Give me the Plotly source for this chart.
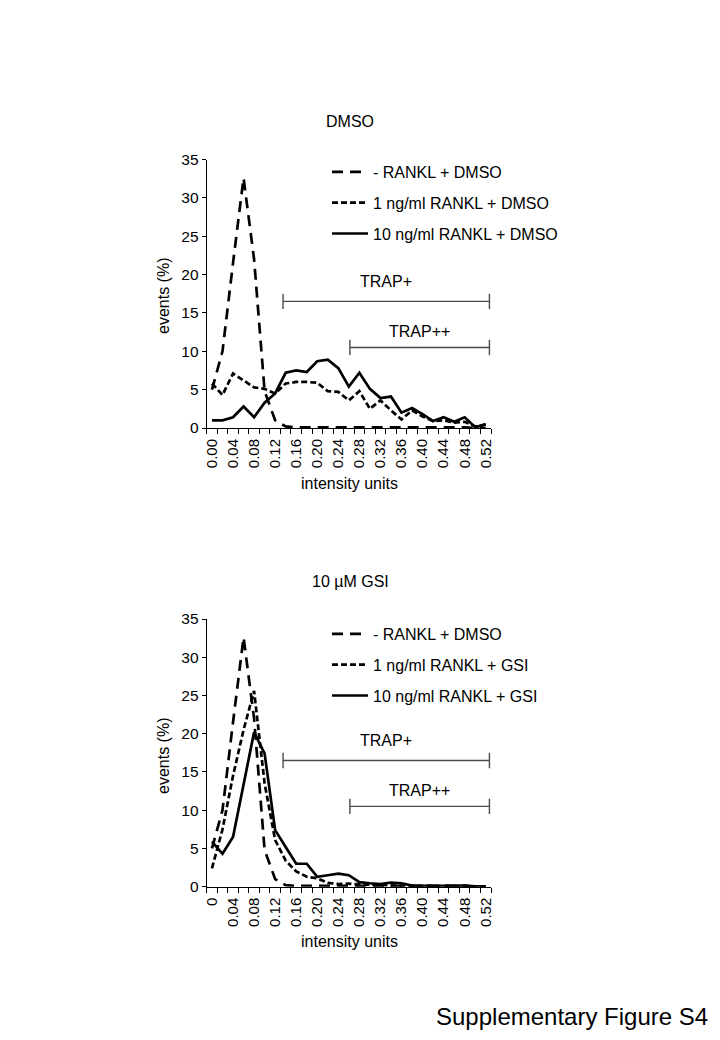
import plotly.graph_objects as go

# ---------------- data ----------------
intensity = [0.00, 0.02, 0.04, 0.06, 0.08, 0.10, 0.12, 0.14, 0.16, 0.18, 0.20, 0.22, 0.24,
             0.26, 0.28, 0.30, 0.32, 0.34, 0.36, 0.38, 0.40, 0.42, 0.44, 0.46, 0.48, 0.50, 0.52]
label_pos = [0.00, 0.04, 0.08, 0.12, 0.16, 0.20, 0.24, 0.28, 0.32, 0.36, 0.40, 0.44, 0.48, 0.52]
top_ticklabels = ["0.00", "0.04", "0.08", "0.12", "0.16", "0.20", "0.24", "0.28",
                  "0.32", "0.36", "0.40", "0.44", "0.48", "0.52"]
bottom_ticklabels = ["0", "0.04", "0.08", "0.12", "0.16", "0.20", "0.24", "0.28",
                     "0.32", "0.36", "0.40", "0.44", "0.48", "0.52"]

ctrl_dmso = [5.0, 10.0, 21.5, 32.6, 22.0, 4.8, 1.0, 0.2, 0.1, 0.1, 0.1, 0.1, 0.1, 0.1,
             0.1, 0.1, 0.1, 0.1, 0.1, 0.1, 0.1, 0.1, 0.1, 0.1, 0.1, 0.0, 0.0]
dmso_1ng = [5.8, 4.3, 7.1, 6.2, 5.3, 5.1, 4.5, 5.8, 6.0, 6.0, 5.9, 4.8, 4.7, 3.6,
            4.8, 2.5, 3.6, 2.3, 1.1, 2.3, 1.5, 0.9, 1.0, 0.7, 0.8, 0.2, 0.4]
dmso_10ng = [1.0, 1.0, 1.4, 2.8, 1.4, 3.3, 4.5, 7.2, 7.5, 7.3, 8.7, 8.9, 7.8, 5.4,
             7.2, 5.1, 3.9, 4.1, 2.0, 2.6, 1.8, 0.9, 1.4, 0.8, 1.4, 0.1, 0.5]
gsi_1ng = [2.4, 7.5, 14.5, 20.5, 25.6, 13.5, 6.1, 3.4, 2.0, 1.3, 1.1, 0.5, 0.35, 0.4,
           0.3, 0.25, 0.2, 0.2, 0.1, 0.1, 0.1, 0.1, 0.1, 0.1, 0.1, 0.05, 0.05]
gsi_10ng = [5.9, 4.3, 6.5, 13.3, 20.2, 17.4, 7.4, 5.2, 3.0, 3.0, 1.3, 1.5, 1.7, 1.5,
            0.6, 0.45, 0.35, 0.55, 0.45, 0.15, 0.1, 0.1, 0.1, 0.1, 0.15, 0.05, 0.05]

trap_plus = [0.135, 0.527]
trap_pp = [0.262, 0.527]
trap_plus_y = 16.5
trap_pp_y = 10.5

FONT = "Liberation Sans, Arial, Helvetica, sans-serif"
LONG = "11px,7px"
SHORT = "6px,3px"
LW = 2.7

# the page adds an 8px body margin; size the figure so it fills 720x1040 exactly
OFF = 8
W, H = 720 - 2 * OFF, 1040 - 2 * OFF


def px(x):
    return (x - OFF) / W


def py(y):
    return 1 - (y - OFF) / H


fig = go.Figure()


def add(y, name, dash, xa, ya, leg, grp):
    fig.add_trace(go.Scatter(
        x=intensity, y=y, mode="lines", name=name,
        line=dict(color="black", width=LW, dash=dash),
        xaxis=xa, yaxis=ya, legend=leg, legendgroup=grp, showlegend=True))


add(ctrl_dmso, "- RANKL + DMSO", LONG, "x", "y", "legend", "a1")
add(dmso_1ng, "1 ng/ml RANKL + DMSO", SHORT, "x", "y", "legend", "a2")
add(dmso_10ng, "10 ng/ml RANKL + DMSO", "solid", "x", "y", "legend", "a3")
add(ctrl_dmso, "- RANKL + DMSO", LONG, "x2", "y2", "legend2", "b1")
add(gsi_1ng, "1 ng/ml RANKL + GSI", SHORT, "x2", "y2", "legend2", "b2")
add(gsi_10ng, "10 ng/ml RANKL + GSI", "solid", "x2", "y2", "legend2", "b3")

XDOM = [px(206.7), px(491.0)]
TOPDOM = [py(428.0), py(159.5)]
BOTDOM = [py(886.7), py(619.0)]


def xaxis(dom_anchor, ticktext):
    return dict(
        domain=XDOM, anchor=dom_anchor, range=[-0.01, 0.53], autorange=False,
        tickmode="array", tickvals=label_pos, ticktext=ticktext, tickangle=-90,
        ticks="", ticklen=0, showline=True, linecolor="black", linewidth=1,
        showgrid=False, zeroline=False, automargin=False,
        tickfont=dict(family=FONT, size=15, color="black"),
        minor=dict(tickmode="linear", tick0=-0.01, dtick=0.02, ticks="outside",
                   ticklen=5, tickcolor="black", tickwidth=1, showgrid=False),
        ticklabelstandoff=4,
    )


def yaxis(dom, anchor):
    return dict(
        domain=dom, anchor=anchor, range=[0, 35], autorange=False, dtick=5,
        ticks="outside", ticklen=4, tickcolor="black", showline=True,
        linecolor="black", linewidth=1, showgrid=False, zeroline=False,
        automargin=False,
        tickfont=dict(family=FONT, size=15.5, color="black"),
    )


legend_common = dict(
    font=dict(family=FONT, size=16, color="black"),
    bgcolor="rgba(0,0,0,0)", borderwidth=0, tracegroupgap=7,
    xanchor="left", yanchor="top", itemclick=False, itemdoubleclick=False,
    itemwidth=36,
)

fig.update_layout(
    width=W, height=H,
    margin=dict(l=0, r=0, t=0, b=0, pad=0, autoexpand=False),
    paper_bgcolor="white", plot_bgcolor="white",
    font=dict(family=FONT, color="black"),
    xaxis=xaxis("y", top_ticklabels), yaxis=yaxis(TOPDOM, "x"),
    xaxis2=xaxis("y2", bottom_ticklabels), yaxis2=yaxis(BOTDOM, "x2"),
    legend=dict(x=px(327), y=py(155), **legend_common),
    legend2=dict(x=px(327), y=py(617), **legend_common),
)

shapes = []
annotations = []
for xr, yr in (("x", "y"), ("x2", "y2")):
    for (x0, x1), yy in ((trap_plus, trap_plus_y), (trap_pp, trap_pp_y)):
        g = dict(type="line", xref=xr, yref=yr, line=dict(color="#4a4a4a", width=1.4))
        shapes.append(dict(g, x0=x0, x1=x1, y0=yy, y1=yy))
        shapes.append(dict(g, x0=x0, x1=x0, y0=yy - 1.0, y1=yy + 1.0))
        shapes.append(dict(g, x0=x1, x1=x1, y0=yy - 1.0, y1=yy + 1.0))
    annotations.append(dict(text="TRAP+", x=0.331, y=19.1, xref=xr, yref=yr,
                            showarrow=False, font=dict(family=FONT, size=16)))
    annotations.append(dict(text="TRAP++", x=0.395, y=12.6, xref=xr, yref=yr,
                            showarrow=False, font=dict(family=FONT, size=16)))


def paper_text(text, x, y, size=16, angle=0):
    annotations.append(dict(text=text, x=px(x), y=py(y), xref="paper",
                            yref="paper", showarrow=False, textangle=angle,
                            xanchor="center", yanchor="middle",
                            font=dict(family=FONT, size=size, color="black")))


paper_text("DMSO", 350, 121)
paper_text("10 µM GSI", 350, 581)
paper_text("intensity units", 349, 483)
paper_text("intensity units", 349, 941)
paper_text("events (%)", 163, 296, angle=-90)
paper_text("events (%)", 163, 756, angle=-90)
paper_text("Supplementary Figure S4", 572, 1016, size=24)

fig.update_layout(shapes=shapes, annotations=annotations)
fig.write_html("out.html")
